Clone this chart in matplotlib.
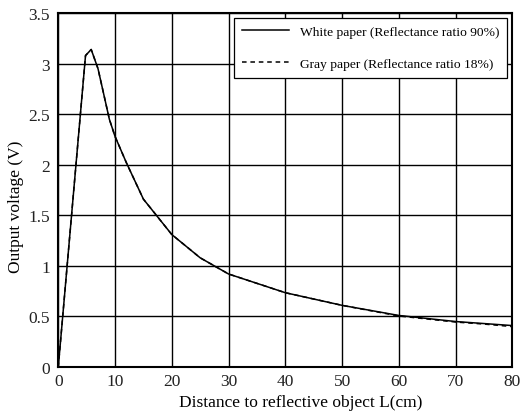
import matplotlib
matplotlib.use("Agg")
import matplotlib.pyplot as plt

# distance (cm) vs output voltage (V)
white_x = [0, 4.8, 5.8, 7, 9, 10, 12, 15, 20, 25, 30, 40, 50, 60, 70, 80]
white_y = [0, 3.08, 3.14, 2.95, 2.45, 2.28, 2.02, 1.66, 1.31, 1.08, 0.92, 0.735, 0.61, 0.51, 0.45, 0.41]

gray_x = [0, 4.8, 5.8, 7, 9, 10, 12, 15, 20, 25, 30, 40, 50, 60, 70, 75, 80]
gray_y = [0, 3.08, 3.14, 2.95, 2.45, 2.28, 2.02, 1.66, 1.31, 1.08, 0.92, 0.735, 0.61, 0.505, 0.445, 0.425, 0.40]

x_ticks = [0, 10, 20, 30, 40, 50, 60, 70, 80]
y_ticks = [0, 0.5, 1, 1.5, 2, 2.5, 3, 3.5]
y_tick_labels = ["0", "0.5", "1", "1.5", "2", "2.5", "3", "3.5"]

plt.rcParams["font.family"] = ["Liberation Serif", "DejaVu Serif"]

fig = plt.figure(figsize=(5.25, 4.14), dpi=100)
ax = fig.add_axes([0.111, 0.111, 0.865, 0.855])

ax.plot(white_x, white_y, color="black", lw=1.1, label="White paper (Reflectance ratio 90%)")
ax.plot(gray_x, gray_y, color="black", lw=1.1, ls=(0, (3, 2.5)),
        label="Gray paper (Reflectance ratio 18%)")

ax.set_xlim(0, 80)
ax.set_ylim(0, 3.5)
ax.set_xticks(x_ticks)
ax.set_yticks(y_ticks)
ax.set_yticklabels(y_tick_labels)
ax.tick_params(length=0, labelsize=12.5, colors="#222222")
ax.tick_params(axis="x", pad=4)
ax.tick_params(axis="y", pad=6)
ax.grid(True, color="black", lw=1.0)
for s in ax.spines.values():
    s.set_linewidth(1.5)

ax.set_xlabel("Distance to reflective object L(cm)", fontsize=12.5, labelpad=4)
ax.set_ylabel("Output voltage (V)", fontsize=12.5, labelpad=3)
# the original labels sit a bit off the axis centre
ax.xaxis.label.set_x(0.533)
ax.yaxis.label.set_y(0.455)

leg = ax.legend(loc="upper right", fontsize=9.7, frameon=True, fancybox=False,
                edgecolor="black", framealpha=1, handlelength=3.5,
                borderpad=0.6, labelspacing=1.45, borderaxespad=0,
                bbox_to_anchor=(0.989, 0.987))
leg.get_frame().set_linewidth(0.9)

fig.savefig("out.png", dpi=100)
